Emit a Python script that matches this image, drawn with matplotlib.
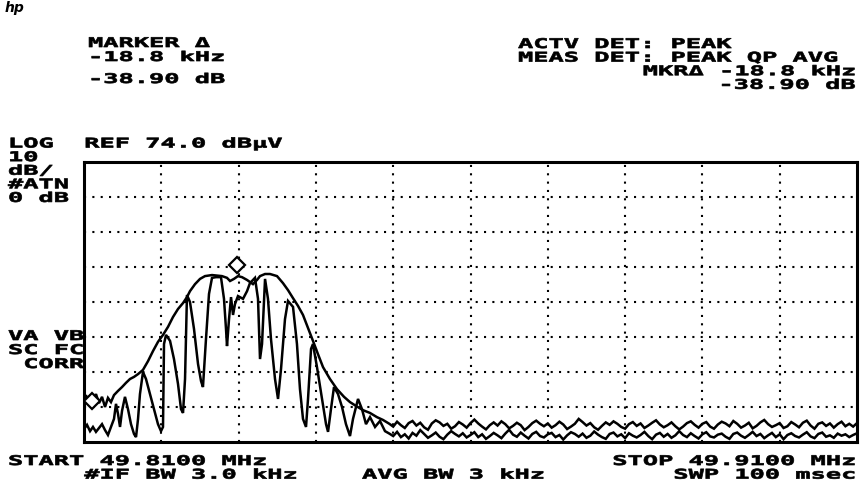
import numpy as np
import matplotlib
matplotlib.use("Agg")
import matplotlib.pyplot as plt
from matplotlib.patheffects import AbstractPathEffect
from matplotlib.transforms import Affine2D

plt.rcParams['font.family'] = ['DejaVu Sans Mono', 'DejaVu Sans']

# ---------------- data ----------------
START_MHZ = 49.8100
STOP_MHZ = 49.9100
REF_DBUV = 74.0
DB_PER_DIV = 10

# envelope trace (smooth hump), offset from start in kHz / level dBuV
env_khz = [0, 0.26, 0.52, 0.78, 1.16, 1.55, 1.94, 2.33, 2.72, 3.10, 3.49, 3.88, 4.40, 4.92,
           5.43, 5.95, 6.47, 6.99, 7.63, 8.28, 8.93, 9.57, 10.22, 10.87, 11.51, 12.16, 12.81,
           13.32, 13.71, 14.36, 15.01, 15.65, 16.56, 17.85, 18.50, 18.89, 19.40, 19.92, 20.44,
           21.09, 21.86, 22.38, 22.77, 23.42, 24.06, 24.97, 25.74, 26.39, 27.04, 27.68, 28.33,
           28.98, 29.62, 30.27, 30.92, 31.82, 32.73, 33.64, 34.41, 35.19, 36.09, 37.00, 37.90,
           38.68]
env_db = [6.3, 7.4, 5.1, 6.9, 5.7, 7.7, 5.1, 6.9, 4.0, 6.6, 5.4, 7.4, 8.6, 9.7,
          10.9, 12.0, 12.6, 13.4, 14.6, 17.1, 20.0, 22.6, 24.6, 26.9, 29.7, 32.0, 33.7,
          35.4, 37.1, 39.1, 40.6, 41.4, 41.7, 41.4, 40.9, 40.0, 40.6, 41.4, 41.1,
          40.3, 39.1, 40.3, 41.4, 42.0, 42.0, 41.4, 39.4, 37.4, 35.1, 32.9, 30.3,
          26.6, 22.9, 19.1, 15.4, 12.0, 9.1, 6.9, 5.4, 4.3, 3.1, 2.3, 1.1,
          0.3]

# notched trace, offset from start in kHz / level dBuV
sig_khz = [0, 0.39, 0.78, 1.16, 1.55, 1.94, 2.33, 2.72, 3.10, 3.49, 3.88, 4.14, 4.40, 4.66,
           4.92, 5.30, 5.69, 6.08, 6.47, 6.73, 6.99, 7.24, 7.63, 8.02, 8.54, 9.06, 9.57, 9.96,
           10.22, 10.35, 10.61, 11.13, 11.64, 12.16, 12.55, 12.81, 13.07, 13.32, 13.71, 14.23,
           14.75, 15.14, 15.39, 15.78, 16.17, 16.56, 17.08, 17.72, 18.11, 18.37, 18.50, 18.76,
           19.02, 19.28, 19.53, 19.92, 20.57, 21.09, 21.47, 22.12, 22.51, 22.77, 23.03, 23.42,
           23.80, 24.19, 24.71, 25.10, 25.49, 26.00, 26.39, 27.04, 27.55, 27.94, 28.33, 28.72,
           28.98, 29.37, 29.62, 30.14, 30.79, 31.31, 31.57, 31.95, 32.34, 32.86, 33.38, 33.89,
           34.41, 34.80, 35.45, 35.96, 36.48, 37.00, 37.65, 38.29, 38.94]
sig_db = [-2.3, -1.1, -2.9, -1.7, -3.1, -2.0, -0.9, -2.6, -4.0, -1.7, 0.6, 4.9, 2.0, -1.7,
          2.9, 6.9, 3.4, -0.9, -3.7, -4.6, 0.6, 7.7, 14.0, 12.0, 7.7, 3.4, -0.9, -2.9,
          -1.7, 22.0, 24.6, 22.9, 17.7, 10.6, 3.4, 2.3, 12.0, 36.0, 34.0, 26.3,
          16.3, 11.4, 9.7, 23.4, 36.3, 40.9, 41.1, 41.1, 34.9, 26.3, 21.4, 29.1,
          35.4, 30.3, 33.4, 35.7, 34.9, 37.1, 39.4, 40.9, 34.9, 17.7, 22.0, 40.6,
          34.9, 23.4, 12.0, 6.3, 14.9, 29.1, 34.3, 32.6, 22.0, 9.1, 0.6, -1.7,
          6.3, 20.6, 22.0, 15.4, 6.3, -0.9, -3.1, 3.4, 9.7, 7.7, 4.0, -0.9,
          -4.3, 0.6, 6.3, 3.4, -0.9, 1.1, -1.7, 0.0, -2.9]

# noise floor beyond the signal, 0.5 kHz sweep points starting at 39.5 kHz
NOISE_START_KHZ = 39.5
NOISE_STEP_KHZ = 0.5
env_noise_db = [
    -0.8, -1.6, -0.2, -1.2, -2.0, -0.6, 0.0, -1.3, -0.5, -1.8,
    -2.5, -0.7, 0.2, -0.4, -1.4, -0.8, -2.2, -1.5, -0.3, -1.0,
    -1.9, -0.6, 0.4, -0.7, -1.6, -2.4, -1.2, -0.4, -1.3, -0.1,
    -0.9, -2.1, -1.4, -0.5, -1.2, -2.6, -1.7, -0.6, 0.1, -0.8,
    -1.5, -0.7, -1.9, -1.2, -0.2, -1.0, -2.3, -1.6, -0.8, 0.6,
    -0.3, -1.3, -0.6, -1.8, -2.5, -1.4, -0.4, -1.1, -0.1, -0.8,
    -1.7, -2.2, -0.9, -0.3, -1.4, -0.7, -2.0, -1.3, -0.5, 0.2,
    -1.0, -1.8, -1.2, -0.4, -1.5, -2.4, -1.6, -0.6, -0.1, -1.1,
    -1.9, -0.8, -0.3, -1.6, -2.2, -1.0, -0.2, -0.7, -1.5, 0.0,
    -0.8, -1.9, -1.3, -0.5, -2.1, -1.4, -0.4, 0.3, -0.9, -1.7,
    -1.2, -0.6, -2.0, -1.5, -0.3, -1.0, -1.8, -0.5, 0.1, -1.3,
    -2.2, -0.8, -0.4, -1.4, -0.7, -1.9, -0.9, -0.2, -1.5, -0.8,
    -1.6, -0.6, -1.2, -0.4, -1.0, -1.7, -0.5, -1.1, -0.7, -1.3]
sig_noise_db = [
    -3.6, -4.3, -3.1, -4.6, -3.8, -5.0, -3.4, -4.2, -2.6, -3.7,
    -4.8, -4.1, -3.3, -4.5, -5.2, -3.9, -2.9, -3.7, -4.4, -3.5,
    -4.7, -4.0, -3.2, -4.6, -3.8, -5.1, -4.3, -3.4, -4.1, -4.9,
    -3.6, -2.5, -3.9, -4.5, -3.3, -4.2, -5.0, -3.7, -3.1, -4.3,
    -4.7, -3.8, -3.4, -4.6, -4.0, -5.3, -4.1, -3.2, -3.7, -4.5,
    -3.6, -4.8, -4.2, -3.0, -3.9, -4.6, -5.1, -3.7, -3.3, -4.4,
    -3.8, -4.9, -3.5, -4.2, -4.7, -4.0, -3.1, -4.3, -5.2, -3.9,
    -3.4, -4.5, -3.7, -4.8, -4.1, -2.9, -4.0, -4.6, -3.5, -4.3,
    -5.0, -3.8, -3.2, -4.4, -4.7, -3.9, -3.6, -4.5, -5.1, -3.7,
    -3.3, -4.2, -4.8, -4.0, -3.1, -4.3, -3.7, -4.9, -4.1, -3.4,
    -4.6, -3.8, -5.2, -4.0, -3.5, -4.3, -4.7, -3.9, -3.2, -4.4,
    -4.9, -3.7, -3.3, -4.5, -4.1, -4.8, -3.6, -4.2, -3.8, -4.6,
    -4.0, -3.5, -4.2, -4.7, -3.9, -4.4, -3.6, -4.1, -4.5, -3.8]

# markers: (offset kHz, level dBuV)
marker_ref = (19.8, 44.6)
marker_act = (1.0, 5.7)

# annotation texts
hdr_left = ["MARKER Δ", "-18.8 kHz", "-38.90 dB"]
hdr_right = ["ACTV DET: PEAK", "MEAS DET: PEAK QP AVG", "MKRΔ -18.8 kHz", "-38.90 dB"]
side_top = ["LOG  REF 74.0 dBµV", "10", "dB/", "#ATN", "0 dB"]
side_mid = ["VA VB", "SC FC", " CORR"]
bottom_left = ["START 49.8100 MHz", "     #IF BW 3.0 kHz"]
bottom_mid = "AVG BW 3 kHz"
bottom_right = ["STOP 49.9100 MHz", "SWP 100 msec"]

# ---------------- figure ----------------
W, H = 860, 485
fig = plt.figure(figsize=(W / 100, H / 100), dpi=100)
fig.patch.set_facecolor('white')

AX_L, AX_R, AX_T, AX_B = 84, 857, 163, 443
ax = fig.add_axes([AX_L / W, (H - AX_B) / H, (AX_R - AX_L) / W, (AX_B - AX_T) / H])

noise_khz = [NOISE_START_KHZ + NOISE_STEP_KHZ * i for i in range(len(env_noise_db))]
env_f = START_MHZ + np.array(env_khz + noise_khz) / 1000.0
env_l = np.array(env_db + env_noise_db)
sig_f = START_MHZ + np.array(sig_khz + noise_khz) / 1000.0
sig_l = np.array(sig_db + sig_noise_db)

ax.plot(sig_f, sig_l, color='black', lw=1.8, solid_joinstyle='miter', zorder=3)
ax.plot(env_f, env_l, color='black', lw=1.8, solid_joinstyle='miter', zorder=3)

for mk in (marker_ref, marker_act):
    ax.plot(START_MHZ + mk[0] / 1000.0, mk[1], marker='D', ms=8.5, mfc='white',
            mec='black', mew=1.6, zorder=4)

ax.set_xlim(START_MHZ, STOP_MHZ)
ax.set_ylim(REF_DBUV - 8 * DB_PER_DIV, REF_DBUV)
ax.set_xticks(np.linspace(START_MHZ, STOP_MHZ, 11)[1:-1])
ax.set_yticks(np.arange(REF_DBUV - 7 * DB_PER_DIV, REF_DBUV, DB_PER_DIV))
ax.grid(True, color='black', linestyle=(0, (1, 3)), linewidth=1.5)
ax.tick_params(left=False, bottom=False, labelleft=False, labelbottom=False)
for sp in ax.spines.values():
    sp.set_linewidth(2.2)
    sp.set_color('black')


class Stretch(AbstractPathEffect):
    """Widen glyphs horizontally (HP display font is wide) and thicken strokes."""
    def __init__(self, sx, anchor='left', stroke=0.5):
        super().__init__()
        self.sx = sx
        self.anchor = anchor
        self.stroke = stroke

    def draw_path(self, renderer, gc, tpath, affine, rgbFace=None):
        if self.anchor == 'left':
            x0 = affine.get_matrix()[0, 2]
        else:
            x0 = affine.transform(tpath.vertices)[:, 0].max()
        aff = affine + Affine2D().translate(-x0, 0).scale(self.sx, 1).translate(x0, 0)
        gc0 = renderer.new_gc()
        gc0.copy_properties(gc)
        gc0.set_linewidth(self.stroke)
        if rgbFace is not None:
            gc0.set_foreground(rgbFace)
        renderer.draw_path(gc0, tpath, aff, rgbFace)
        gc0.restore()


FS = 9.6
SX = 1.9


def hp_text(x, y, s, ha='left'):
    fig.text(x / W, 1 - (y + 1.5) / H, s, ha=ha, va='center', fontsize=FS,
             fontweight='bold', color='black', path_effects=[Stretch(SX, ha)])


PITCH = 13.6
hp_text(88, 43, hdr_left[0])
hp_text(88, 57, hdr_left[1])
hp_text(88, 79, hdr_left[2])
for i, s in enumerate(hdr_right[:2]):
    hp_text(518, 44 + i * PITCH, s)
for i, s in enumerate(hdr_right[2:]):
    hp_text(855, 44 + (i + 2) * PITCH, s, ha='right')
for i, s in enumerate(side_top):
    hp_text(8, 143.5 + i * PITCH, s)
for i, s in enumerate(side_mid):
    hp_text(8, 336 + i * 14, s)
for i, s in enumerate(bottom_left):
    hp_text(8, 461 + i * PITCH, s)
hp_text(362, 461 + PITCH, bottom_mid)
for i, s in enumerate(bottom_right):
    hp_text(855, 461 + i * PITCH, s, ha='right')

fig.text(5 / W, 1 - 8 / H, "hp", ha='left', va='center', fontsize=10, fontweight='bold',
         style='italic', family=['DejaVu Sans'], color='black')

fig.savefig("out.png", dpi=100, facecolor='white')
